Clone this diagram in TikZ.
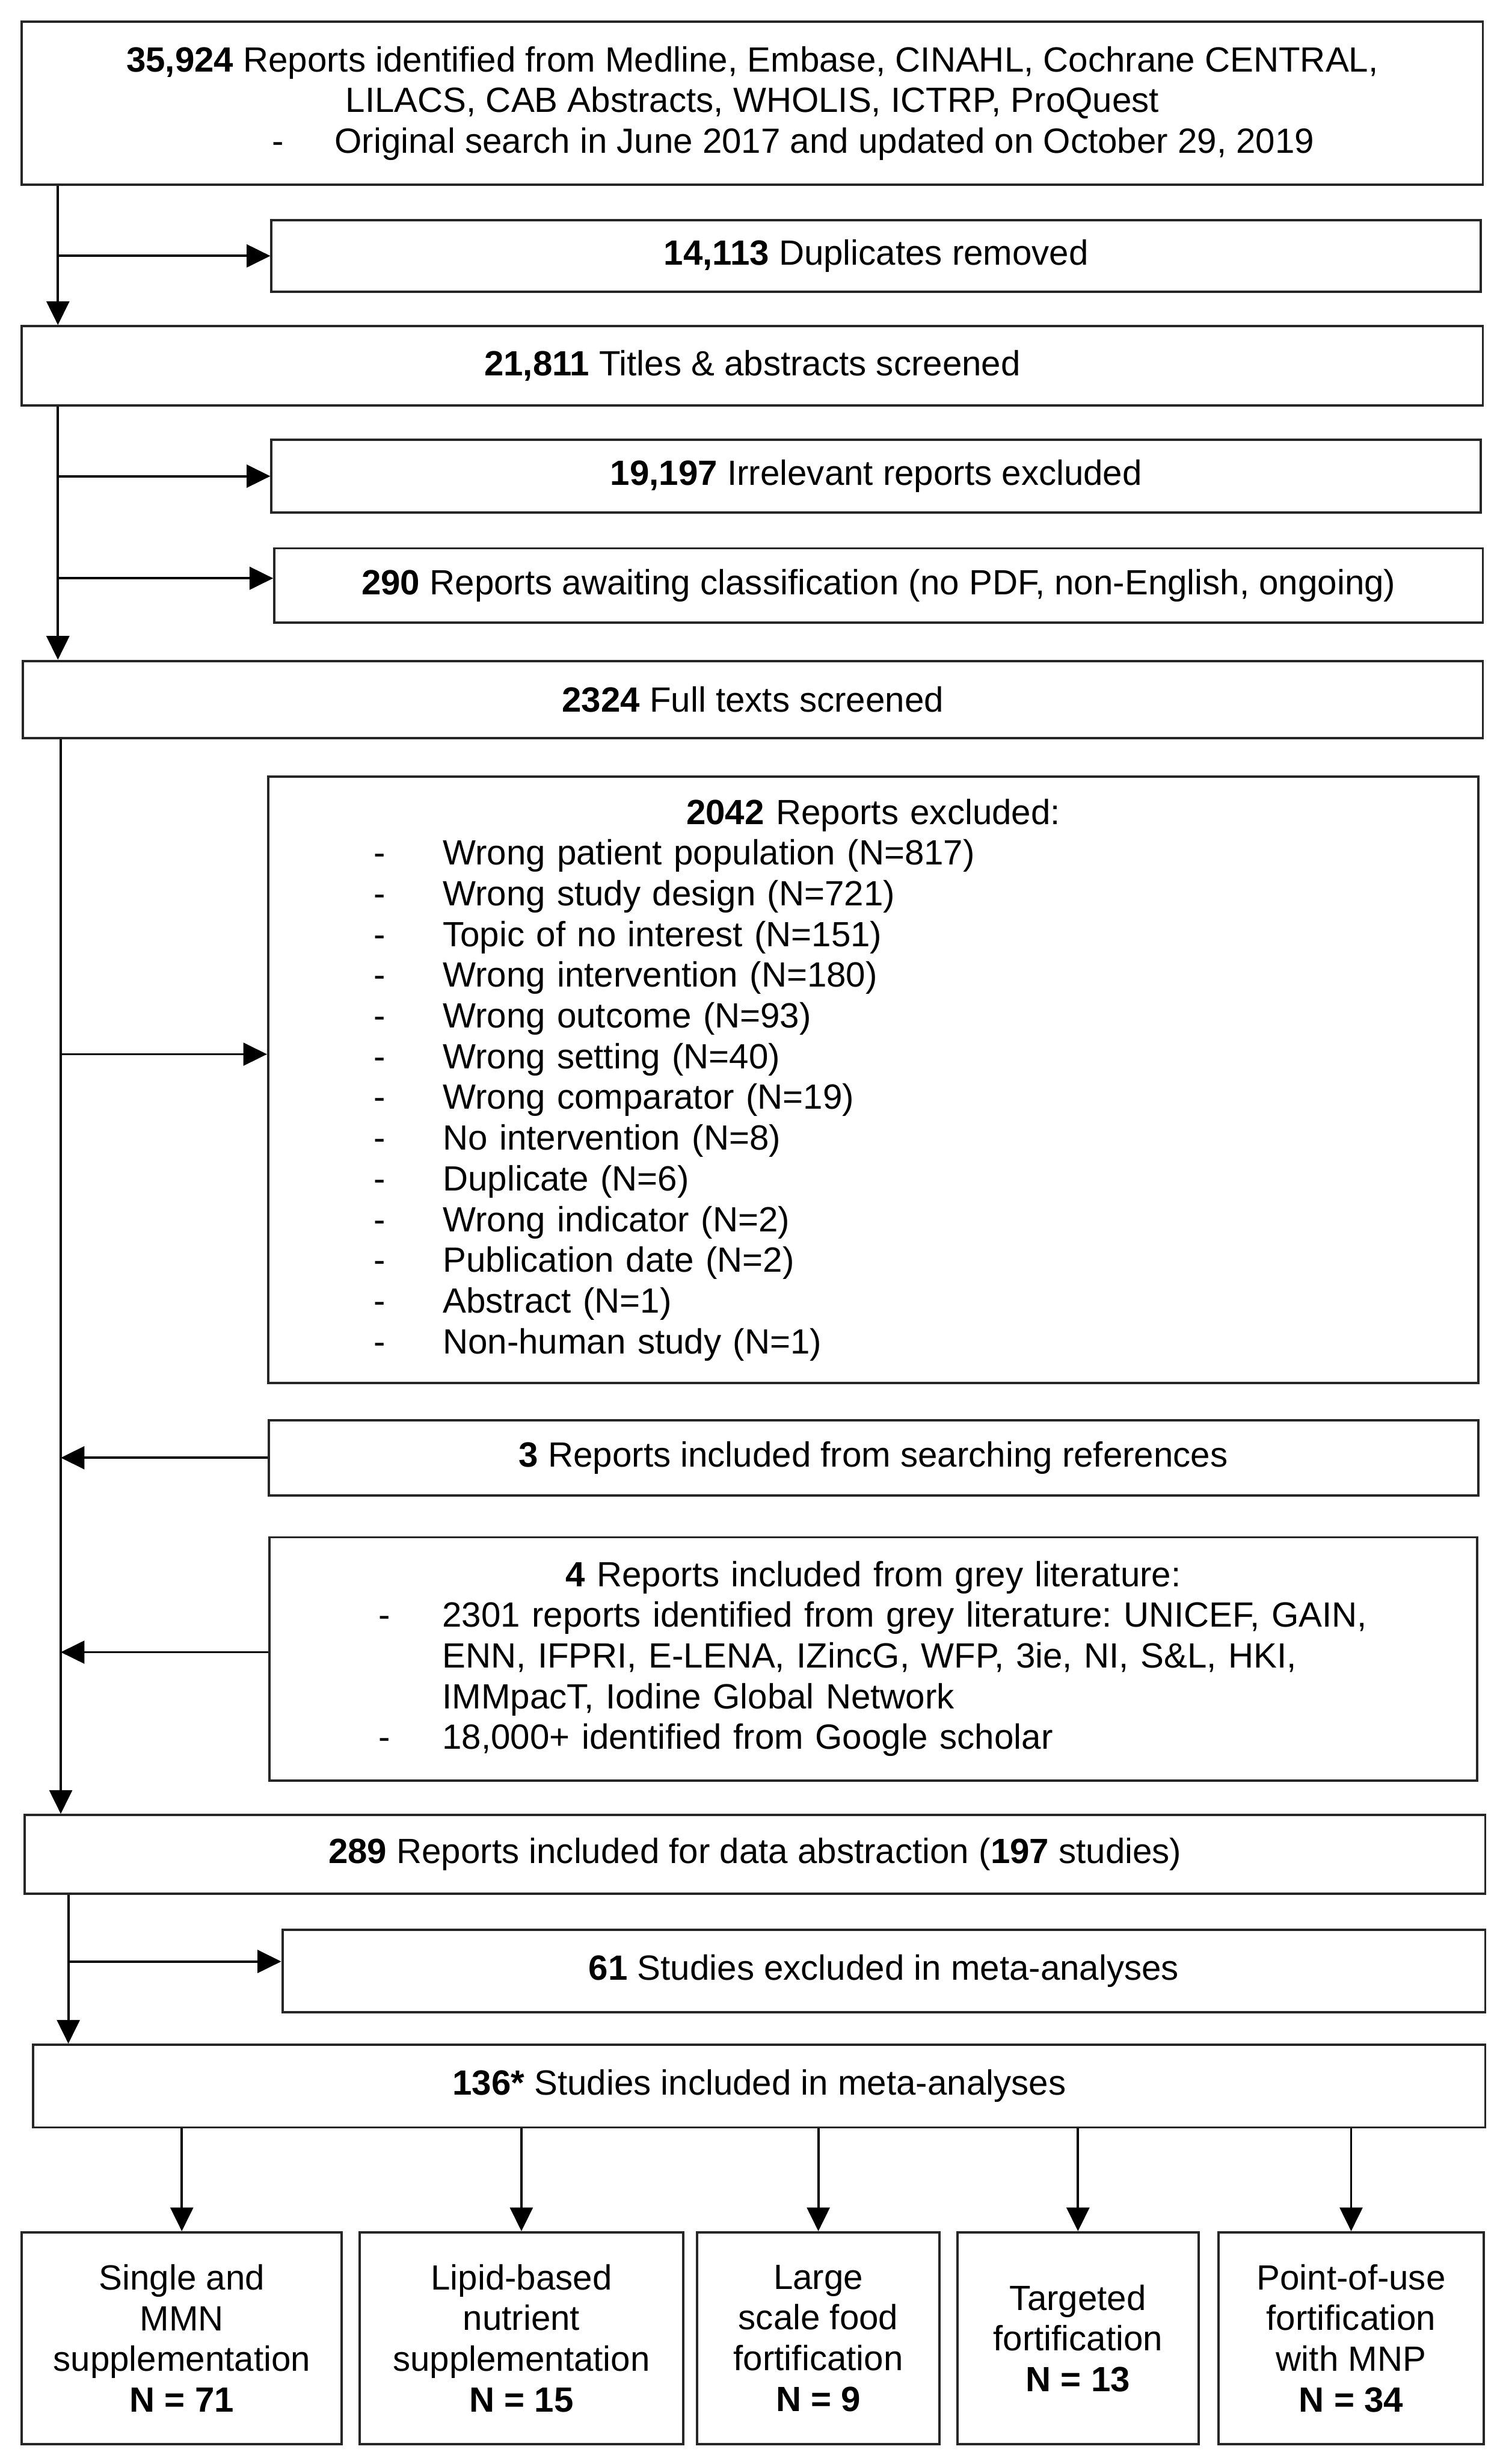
\documentclass[tikz,border=0pt]{standalone}
\usepackage{fontspec}
\setmainfont{Liberation Sans}
\usetikzlibrary{arrows.meta}

\begin{document}
\frenchspacing
\begin{tikzpicture}[font=\fontsize{21}{24.4}\selectfont,>={Triangle[length=0.5cm,width=0.48cm]},
    box/.style={draw=black!85,line width=1.4pt,fill=white,inner sep=0pt,align=center},
    link/.style={->,line width=1.4pt}]
  \useasboundingbox (0,0) rectangle (31.6,-51.9);
  \coordinate (spineA) at (1.22,0);
  \coordinate (spineC) at (1.28,0);
  \coordinate (spineD) at (1.44,0);

  \node[box,minimum width=30.78cm,minimum height=3.43cm] (ident) at (15.85,-2.175) {\textbf{35,924} Reports identified from Medline, Embase, CINAHL, Cochrane CENTRAL,\\LILACS, CAB Abstracts, WHOLIS, ICTRP, ProQuest\\\hspace*{1.72cm}\makebox[1.32cm][l]{-}Original search in June 2017 and updated on October 29, 2019};
  \node[box,minimum width=25.48cm,minimum height=1.50cm] (dup) at (18.46,-5.39) {\textbf{14,113} Duplicates removed};
  \node[box,minimum width=30.78cm,minimum height=1.67cm] (screen) at (15.85,-7.705) {\textbf{21,811} Titles \& abstracts screened};
  \node[box,minimum width=25.48cm,minimum height=1.53cm] (irrel) at (18.46,-10.03) {\textbf{19,197} Irrelevant reports excluded};
  \node[box,minimum width=25.46cm,minimum height=1.56cm] (await) at (18.51,-12.33) {\textbf{290} Reports awaiting classification (no PDF, non-English, ongoing)};
  \node[box,minimum width=30.76cm,minimum height=1.63cm] (fulltext) at (15.86,-14.735) {\textbf{2324} Full texts screened};
  \node[box,align=left,text width=21.05cm,inner xsep=2.22cm,minimum height=12.77cm] (excl) at (18.395,-22.745) {%
    \hspace*{6.59cm}\textbf{2042} Reports excluded:\\
    \makebox[1.46cm][l]{-}Wrong patient population (N=817)\\
    \makebox[1.46cm][l]{-}Wrong study design (N=721)\\
    \makebox[1.46cm][l]{-}Topic of no interest (N=151)\\
    \makebox[1.46cm][l]{-}Wrong intervention (N=180)\\
    \makebox[1.46cm][l]{-}Wrong outcome (N=93)\\
    \makebox[1.46cm][l]{-}Wrong setting (N=40)\\
    \makebox[1.46cm][l]{-}Wrong comparator (N=19)\\
    \makebox[1.46cm][l]{-}No intervention (N=8)\\
    \makebox[1.46cm][l]{-}Duplicate (N=6)\\
    \makebox[1.46cm][l]{-}Wrong indicator (N=2)\\
    \makebox[1.46cm][l]{-}Publication date (N=2)\\
    \makebox[1.46cm][l]{-}Abstract (N=1)\\
    \makebox[1.46cm][l]{-}Non-human study (N=1)};
  \node[box,minimum width=25.48cm,minimum height=1.59cm] (refs) at (18.40,-30.705) {\textbf{3} Reports included from searching references};
  \node[box,align=left,text width=20.86cm,inner xsep=2.29cm,minimum height=5.12cm] (grey) at (18.40,-34.94) {%
    \makebox[20.86cm][c]{\textbf{4} Reports included from grey literature:}\\
    \makebox[1.35cm][l]{-}\mbox{2301 reports identified from grey literature: UNICEF, GAIN,}\\
    \hspace*{1.35cm}ENN, IFPRI, E-LENA, IZincG, WFP, 3ie, NI, S\&L, HKI,\\
    \hspace*{1.35cm}IMMpacT, Iodine Global Network\\
    \makebox[1.35cm][l]{-}18,000+ identified from Google scholar};
  \node[box,minimum width=30.77cm,minimum height=1.66cm] (incl) at (15.905,-39.06) {\textbf{289} Reports included for data abstraction (\textbf{197} studies)};
  \node[box,minimum width=25.34cm,minimum height=1.73cm] (exmeta) at (18.62,-41.515) {\textbf{61} Studies excluded in meta-analyses};
  \node[box,minimum width=30.59cm,minimum height=1.74cm] (inmeta) at (15.995,-43.94) {\textbf{136*} Studies included in meta-analyses};

  % intervention groups
  \node[box,minimum width=6.74cm,minimum height=4.46cm] (single) at (3.83,-49.25) {Single and\\MMN\\supplementation\\\textbf{N = 71}};
  \node[box,minimum width=6.81cm,minimum height=4.46cm] (lipid) at (10.985,-49.25) {Lipid-based\\nutrient\\supplementation\\\textbf{N = 15}};
  \node[box,minimum width=5.10cm,minimum height=4.46cm] (large) at (17.24,-49.25) {Large\\scale food\\fortification\\\textbf{N = 9}};
  \node[box,minimum width=5.08cm,minimum height=4.46cm] (target) at (22.71,-49.25) {Targeted\\fortification\\\textbf{N = 13}};
  \node[box,minimum width=5.59cm,minimum height=4.46cm] (pou) at (28.465,-49.25) {Point-of-use\\fortification\\with MNP\\\textbf{N = 34}};

  % branch points
  \coordinate (awaitin) at ([yshift=1.5mm]await.west);
  \coordinate (exclin) at ([yshift=5.4mm]excl.west);
  \coordinate (greyout) at ([yshift=1.4mm]grey.west);
  \coordinate (exmetain) at ([yshift=2mm]exmeta.west);

  \draw[link] (ident.south -| spineA) -- (screen.north -| spineA);
  \draw[link] (dup.west -| spineA) -- (dup.west);
  \draw[link] (screen.south -| spineA) -- (fulltext.north -| spineA);
  \draw[link] (irrel.west -| spineA) -- (irrel.west);
  \draw[link] (awaitin -| spineA) -- (awaitin);
  \draw[link] (fulltext.south -| spineC) -- (incl.north -| spineC);
  \draw[link] (exclin -| spineC) -- (exclin);
  \draw[link] (refs.west) -- (refs.west -| spineC);
  \draw[link] (greyout) -- (greyout -| spineC);
  \draw[link] (incl.south -| spineD) -- (inmeta.north -| spineD);
  \draw[link] (exmetain -| spineD) -- (exmetain);
  \foreach \grp in {single,lipid,large,target,pou}
    \draw[link] (inmeta.south -| \grp.north) -- (\grp.north);
\end{tikzpicture}
\end{document}
